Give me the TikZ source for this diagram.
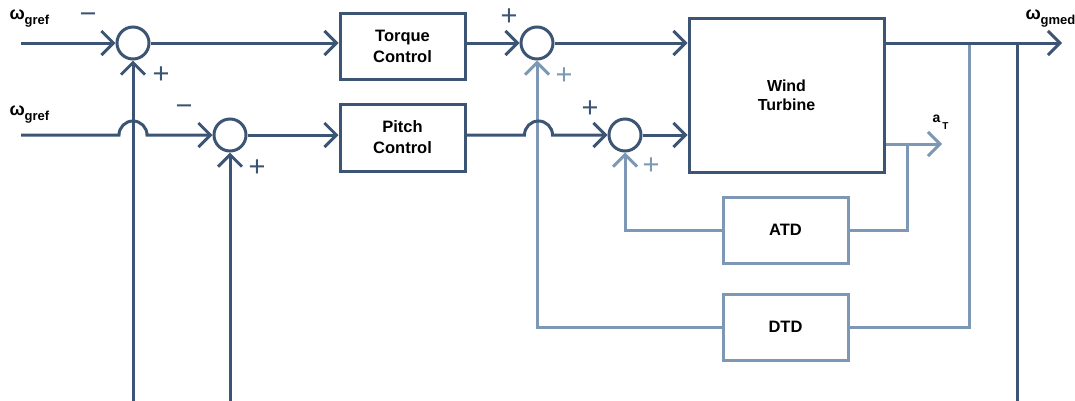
\documentclass[tikz,border=0pt]{standalone}
\usepackage{fontspec}
\setmainfont{Liberation Sans}
\usetikzlibrary{arrows.meta}
\definecolor{dk}{RGB}{61,85,117}
\definecolor{lt}{RGB}{125,152,181}
\newcommand\om[1]{{\fontsize{18}{18}\selectfont ω}\raisebox{-5pt}{\fontsize{13}{13}\selectfont #1}}
\begin{document}
\begin{tikzpicture}[x=1pt,y=1pt,line width=3pt,color=dk,
    sum/.style={circle,draw=dk,minimum size=32pt,inner sep=0pt},
    blk/.style={rectangle,inner sep=0pt,align=center,text=black,
        font=\fontsize{16.5}{21}\selectfont\bfseries,
        minimum width=125pt,minimum height=66pt},
    dkbox/.style={blk,draw=dk},
    ltbox/.style={blk,draw=lt},
    arr/.style={-{Straight Barb[length=12pt,width=24pt]}},
    sgn/.style={font=\fontsize{29}{29}\selectfont,inner sep=0pt},
    lbl/.style={font=\bfseries,inner sep=0pt,text=black}]
            \useasboundingbox (0,0) rectangle (1075,-400);
            \clip (0,0) rectangle (1075,-400);
            % summing points and blocks
            \node[sum] (s1) at (133,-43) {};
            \node[sum] (s2) at (230,-135) {};
            \node[sum] (s3) at (537,-43) {};
            \node[sum] (s4) at (625,-135) {};
            \node[dkbox] (tc) at (402.5,-46) {Torque\\Control};
            \node[dkbox,minimum height=67pt] (pc) at (402.5,-137.5) {Pitch\\Control};
            \node[dkbox,minimum width=195pt,minimum height=154pt,
                font=\fontsize{16}{19}\selectfont\bfseries]
                (wt) at (786.5,-95) {Wind\\Turbine};
            \node[ltbox] (atd) at (785.5,-230) {ATD};
            \node[ltbox] (dtd) at (785.5,-327) {DTD};
            % signal names
            \node[lbl,anchor=base west] (wr1) at (8,-19) {\om{gref}};
            \node[lbl,anchor=base west] (wr2) at (8,-115) {\om{gref}};
            \node[lbl,anchor=base west] (wm) at (1024,-19) {\om{gmed}};
            \node[lbl,anchor=base west] (at) at (931,-122)
                {\fontsize{14}{14}\selectfont a\kern2pt\raisebox{-7pt}{\fontsize{10}{10}\selectfont T}};
            % signs
            \node[sgn] (m1) at (88,-18) {−};
            \node[sgn] (p1) at (161,-75) {+};
            \node[sgn] (m2) at (184,-110) {−};
            \node[sgn] (p2) at (257,-168) {+};
            \node[sgn] (p3) at (509,-17) {+};
            \node[sgn,lt] (q3) at (564,-76) {+};
            \node[sgn] (p4) at (590,-109) {+};
            \node[sgn,lt] (q4) at (651,-166) {+};
            % end points
            \coordinate (in1) at (21,-43);
            \coordinate (in2) at (21,-135);
            \coordinate (out) at (1062,-43);
            \coordinate (aout) at (942,-144);
            \coordinate (tg) at (1017,-43);
            \coordinate (td) at (969,-43);
            \coordinate (ta) at (907,-144);
            \coordinate (fb) at (133,-404);
            % inner loops
            \draw[lt,arr] (wt.east |- aout) -- (aout);
            \draw[lt] (ta) |- (atd.east);
            \draw[lt,arr] (atd.west) -| (s4);
            \draw[lt] (td) |- (dtd.east);
            \draw[lt,arr] (dtd.west) -| (s3);
            % main loop
            \draw[arr] (tg) |- (fb) -- (s1);
            \draw[arr] (s2 |- fb) -- (s2);
            % forward paths
            \draw[arr] (in1) -- (s1);
            \draw[arr] (s1) -- (tc.west |- s1);
            \draw[arr] (tc.east |- s3) -- (s3);
            \draw[arr] (s3) -- (wt.west |- s3);
            \draw[arr] (in2) -- ++(98,0)
                arc[start angle=180,end angle=0,radius=14] -- (s2);
            \draw[arr] (s2) -- (pc.west |- s2);
            \draw[arr] (pc.east |- s4) -- ++(58,0)
                arc[start angle=180,end angle=0,radius=14] -- (s4);
            \draw[arr] (s4) -- (wt.west |- s4);
            \draw[arr] (wt.east |- out) -- (out);
\end{tikzpicture}
\end{document}
